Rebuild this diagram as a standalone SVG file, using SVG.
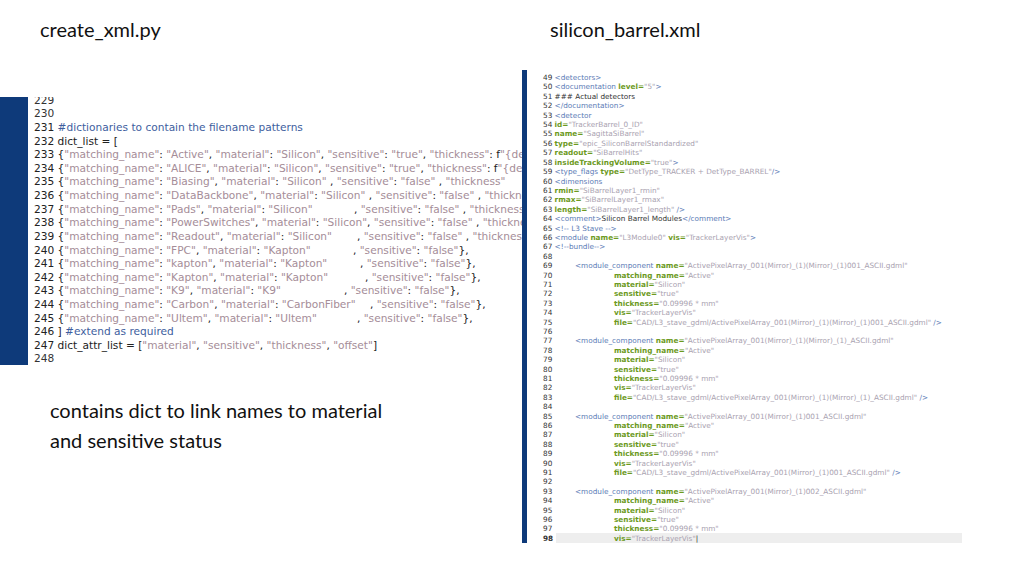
<svg xmlns="http://www.w3.org/2000/svg" width="1024" height="576" viewBox="0 0 1024 576">
<defs>
<style>
.t{font-family:Lato,"Open Sans",sans-serif;font-size:20px;fill:#111}
.l{font-family:"DejaVu Sans",sans-serif;font-size:10.6px;fill:#222}
.n{font-family:"DejaVu Sans",sans-serif;font-size:10.6px;fill:#333}
.s{fill:#a58d98}
.c{fill:#3e5e9e}
.r{font-family:"DejaVu Sans",sans-serif;font-size:7.3px;fill:#333}
.g{fill:#6d9a1e;font-weight:bold}
.b{fill:#5c7cb6}
.v{fill:#a9a2b0}
</style>
<clipPath id="lc"><rect x="28" y="97" width="497" height="268"/></clipPath>
</defs>
<rect width="1024" height="576" fill="#fff"/>
<text class="t" x="40" y="37">create_xml.py</text>
<text class="t" x="550" y="37">silicon_barrel.xml</text>
<text class="t" x="50" y="418">contains dict to link names to material</text>
<text class="t" x="50" y="448">and sensitive status</text>
<g id="left">
<rect x="0" y="97" width="28" height="268" fill="#0e3a7a"/>
<g clip-path="url(#lc)" xml:space="preserve">
<text class="n" x="34" y="104">229</text>
<text class="n" x="34" y="117">230</text>
<text class="l" x="34" y="131">231 <tspan class="c">#dictionaries to contain the filename patterns</tspan></text>
<text class="l" x="34" y="145">232 dict_list = [</text>
<text class="l" x="34" y="158">233   {<tspan class="s">"matching_name"</tspan>: <tspan class="s">"Active"</tspan>, <tspan class="s">"material"</tspan>: <tspan class="s">"Silicon"</tspan>, <tspan class="s">"sensitive"</tspan>: <tspan class="s">"true"</tspan>, <tspan class="s">"thickness"</tspan>: f<tspan class="s">"{de</tspan></text>
<text class="l" x="34" y="172">234   {<tspan class="s">"matching_name"</tspan>: <tspan class="s">"ALICE"</tspan>, <tspan class="s">"material"</tspan>: <tspan class="s">"Silicon"</tspan>, <tspan class="s">"sensitive"</tspan>: <tspan class="s">"true"</tspan>, <tspan class="s">"thickness"</tspan>: f<tspan class="s">"{de</tspan></text>
<text class="l" x="34" y="185">235   {<tspan class="s">"matching_name"</tspan>: <tspan class="s">"Biasing"</tspan>, <tspan class="s">"material"</tspan>: <tspan class="s">"Silicon"</tspan><tspan x="330">, <tspan class="s">"sensitive"</tspan>: <tspan class="s">"false"</tspan> , <tspan class="s">"thickness"</tspan></tspan></text>
<text class="l" x="34" y="199">236   {<tspan class="s">"matching_name"</tspan>: <tspan class="s">"DataBackbone"</tspan>, <tspan class="s">"material"</tspan>: <tspan class="s">"Silicon"</tspan> , <tspan class="s">"sensitive"</tspan>: <tspan class="s">"false"</tspan> , <tspan class="s">"thickness"</tspan></text>
<text class="l" x="34" y="213">237   {<tspan class="s">"matching_name"</tspan>: <tspan class="s">"Pads"</tspan>, <tspan class="s">"material"</tspan>: <tspan class="s">"Silicon"</tspan><tspan x="354">, <tspan class="s">"sensitive"</tspan>: <tspan class="s">"false"</tspan> , <tspan class="s">"thickness"</tspan></tspan></text>
<text class="l" x="34" y="226">238   {<tspan class="s">"matching_name"</tspan>: <tspan class="s">"PowerSwitches"</tspan>, <tspan class="s">"material"</tspan>: <tspan class="s">"Silicon"</tspan>, <tspan class="s">"sensitive"</tspan>: <tspan class="s">"false"</tspan> , <tspan class="s">"thickness"</tspan></text>
<text class="l" x="34" y="240">239   {<tspan class="s">"matching_name"</tspan>: <tspan class="s">"Readout"</tspan>, <tspan class="s">"material"</tspan>: <tspan class="s">"Silicon"</tspan><tspan x="357">, <tspan class="s">"sensitive"</tspan>: <tspan class="s">"false"</tspan> , <tspan class="s">"thickness"</tspan></tspan></text>
<text class="l" x="34" y="254">240   {<tspan class="s">"matching_name"</tspan>: <tspan class="s">"FPC"</tspan>, <tspan class="s">"material"</tspan>: <tspan class="s">"Kapton"</tspan><tspan x="353">, <tspan class="s">"sensitive"</tspan>: <tspan class="s">"false"</tspan>},</tspan></text>
<text class="l" x="34" y="267">241   {<tspan class="s">"matching_name"</tspan>: <tspan class="s">"kapton"</tspan>, <tspan class="s">"material"</tspan>: <tspan class="s">"Kapton"</tspan><tspan x="360">, <tspan class="s">"sensitive"</tspan>: <tspan class="s">"false"</tspan>},</tspan></text>
<text class="l" x="34" y="281">242   {<tspan class="s">"matching_name"</tspan>: <tspan class="s">"Kapton"</tspan>, <tspan class="s">"material"</tspan>: <tspan class="s">"Kapton"</tspan><tspan x="365">, <tspan class="s">"sensitive"</tspan>: <tspan class="s">"false"</tspan>},</tspan></text>
<text class="l" x="34" y="294">243   {<tspan class="s">"matching_name"</tspan>: <tspan class="s">"K9"</tspan>, <tspan class="s">"material"</tspan>: <tspan class="s">"K9"</tspan><tspan x="344">, <tspan class="s">"sensitive"</tspan>: <tspan class="s">"false"</tspan>},</tspan></text>
<text class="l" x="34" y="308">244   {<tspan class="s">"matching_name"</tspan>: <tspan class="s">"Carbon"</tspan>, <tspan class="s">"material"</tspan>: <tspan class="s">"CarbonFiber"</tspan><tspan x="370">, <tspan class="s">"sensitive"</tspan>: <tspan class="s">"false"</tspan>},</tspan></text>
<text class="l" x="34" y="322">245   {<tspan class="s">"matching_name"</tspan>: <tspan class="s">"Ultem"</tspan>, <tspan class="s">"material"</tspan>: <tspan class="s">"Ultem"</tspan><tspan x="357">, <tspan class="s">"sensitive"</tspan>: <tspan class="s">"false"</tspan>},</tspan></text>
<text class="l" x="34" y="335">246 ] <tspan class="c">#extend as required</tspan></text>
<text class="l" x="34" y="349">247 dict_attr_list = [<tspan class="s">"material"</tspan>, <tspan class="s">"sensitive"</tspan>, <tspan class="s">"thickness"</tspan>, <tspan class="s">"offset"</tspan>]</text>
<text class="n" x="34" y="362">248</text>
</g>
</g>
<g id="right" xml:space="preserve">
<rect x="522" y="70" width="5" height="473" fill="#0e3a7a"/>
<rect x="556" y="533" width="406" height="10" fill="#eeeeee"/>
<text class="r" x="543" y="80">49  <tspan class="b">&lt;detectors&gt;</tspan></text>
<text class="r" x="543" y="89">50   <tspan class="b">&lt;documentation</tspan> <tspan class="g">level=</tspan><tspan class="v">"5"</tspan><tspan class="b">&gt;</tspan></text>
<text class="r" x="543" y="99">51        ### Actual detectors</text>
<text class="r" x="543" y="108">52   <tspan class="b">&lt;/documentation&gt;</tspan></text>
<text class="r" x="543" y="118">53   <tspan class="b">&lt;detector</tspan></text>
<text class="r" x="543" y="127">54     <tspan class="g">id=</tspan><tspan class="v">"TrackerBarrel_0_ID"</tspan></text>
<text class="r" x="543" y="136">55     <tspan class="g">name=</tspan><tspan class="v">"SagittaSiBarrel"</tspan></text>
<text class="r" x="543" y="146">56     <tspan class="g">type=</tspan><tspan class="v">"epic_SiliconBarrelStandardized"</tspan></text>
<text class="r" x="543" y="155">57     <tspan class="g">readout=</tspan><tspan class="v">"SiBarrelHits"</tspan></text>
<text class="r" x="543" y="165">58     <tspan class="g">insideTrackingVolume=</tspan><tspan class="v">"true"</tspan><tspan class="b">&gt;</tspan></text>
<text class="r" x="543" y="174">59     <tspan class="b">&lt;type_flags</tspan> <tspan class="g">type=</tspan><tspan class="v">"DetType_TRACKER + DetType_BARREL"</tspan><tspan class="b">/&gt;</tspan></text>
<text class="r" x="543" y="184">60     <tspan class="b">&lt;dimensions</tspan></text>
<text class="r" x="543" y="193">61       <tspan class="g">rmin=</tspan><tspan class="v">"SiBarrelLayer1_rmin"</tspan></text>
<text class="r" x="543" y="202">62       <tspan class="g">rmax=</tspan><tspan class="v">"SiBarrelLayer1_rmax"</tspan></text>
<text class="r" x="543" y="212">63       <tspan class="g">length=</tspan><tspan class="v">"SiBarrelLayer1_length"</tspan> <tspan class="b">/&gt;</tspan></text>
<text class="r" x="543" y="221">64     <tspan class="b">&lt;comment&gt;</tspan>Silicon Barrel Modules<tspan class="b">&lt;/comment&gt;</tspan></text>
<text class="r" x="543" y="231">65     <tspan class="b">&lt;!-- L3 Stave --&gt;</tspan></text>
<text class="r" x="543" y="240">66     <tspan class="b">&lt;module</tspan> <tspan class="g">name=</tspan><tspan class="v">"L3Module0"</tspan> <tspan class="g">vis=</tspan><tspan class="v">"TrackerLayerVis"</tspan><tspan class="b">&gt;</tspan></text>
<text class="r" x="543" y="249">67       <tspan class="b">&lt;!--bundle--&gt;</tspan></text>
<text class="r" x="543" y="259">68</text>
<text class="r" x="543" y="268">69<tspan x="575" class="b">&lt;module_component</tspan> <tspan class="g">name=</tspan><tspan class="v">"ActivePixelArray_001(Mirror)_(1)(Mirror)_(1)001_ASCII.gdml"</tspan></text>
<text class="r" x="543" y="278">70<tspan x="614" class="g">matching_name=</tspan><tspan class="v">"Active"</tspan></text>
<text class="r" x="543" y="287">71<tspan x="614" class="g">material=</tspan><tspan class="v">"Silicon"</tspan></text>
<text class="r" x="543" y="296">72<tspan x="614" class="g">sensitive=</tspan><tspan class="v">"true"</tspan></text>
<text class="r" x="543" y="306">73<tspan x="614" class="g">thickness=</tspan><tspan class="v">"0.09996 * mm"</tspan></text>
<text class="r" x="543" y="315">74<tspan x="614" class="g">vis=</tspan><tspan class="v">"TrackerLayerVis"</tspan></text>
<text class="r" x="543" y="325">75<tspan x="614" class="g">file=</tspan><tspan class="v">"CAD/L3_stave_gdml/ActivePixelArray_001(Mirror)_(1)(Mirror)_(1)001_ASCII.gdml"</tspan> <tspan class="b">/&gt;</tspan></text>
<text class="r" x="543" y="334">76</text>
<text class="r" x="543" y="343">77<tspan x="575" class="b">&lt;module_component</tspan> <tspan class="g">name=</tspan><tspan class="v">"ActivePixelArray_001(Mirror)_(1)(Mirror)_(1)_ASCII.gdml"</tspan></text>
<text class="r" x="543" y="353">78<tspan x="614" class="g">matching_name=</tspan><tspan class="v">"Active"</tspan></text>
<text class="r" x="543" y="362">79<tspan x="614" class="g">material=</tspan><tspan class="v">"Silicon"</tspan></text>
<text class="r" x="543" y="372">80<tspan x="614" class="g">sensitive=</tspan><tspan class="v">"true"</tspan></text>
<text class="r" x="543" y="381">81<tspan x="614" class="g">thickness=</tspan><tspan class="v">"0.09996 * mm"</tspan></text>
<text class="r" x="543" y="390">82<tspan x="614" class="g">vis=</tspan><tspan class="v">"TrackerLayerVis"</tspan></text>
<text class="r" x="543" y="400">83<tspan x="614" class="g">file=</tspan><tspan class="v">"CAD/L3_stave_gdml/ActivePixelArray_001(Mirror)_(1)(Mirror)_(1)_ASCII.gdml"</tspan> <tspan class="b">/&gt;</tspan></text>
<text class="r" x="543" y="409">84</text>
<text class="r" x="543" y="419">85<tspan x="575" class="b">&lt;module_component</tspan> <tspan class="g">name=</tspan><tspan class="v">"ActivePixelArray_001(Mirror)_(1)001_ASCII.gdml"</tspan></text>
<text class="r" x="543" y="428">86<tspan x="614" class="g">matching_name=</tspan><tspan class="v">"Active"</tspan></text>
<text class="r" x="543" y="437">87<tspan x="614" class="g">material=</tspan><tspan class="v">"Silicon"</tspan></text>
<text class="r" x="543" y="447">88<tspan x="614" class="g">sensitive=</tspan><tspan class="v">"true"</tspan></text>
<text class="r" x="543" y="456">89<tspan x="614" class="g">thickness=</tspan><tspan class="v">"0.09996 * mm"</tspan></text>
<text class="r" x="543" y="466">90<tspan x="614" class="g">vis=</tspan><tspan class="v">"TrackerLayerVis"</tspan></text>
<text class="r" x="543" y="475">91<tspan x="614" class="g">file=</tspan><tspan class="v">"CAD/L3_stave_gdml/ActivePixelArray_001(Mirror)_(1)001_ASCII.gdml"</tspan> <tspan class="b">/&gt;</tspan></text>
<text class="r" x="543" y="484">92</text>
<text class="r" x="543" y="494">93<tspan x="575" class="b">&lt;module_component</tspan> <tspan class="g">name=</tspan><tspan class="v">"ActivePixelArray_001(Mirror)_(1)002_ASCII.gdml"</tspan></text>
<text class="r" x="543" y="503">94<tspan x="614" class="g">matching_name=</tspan><tspan class="v">"Active"</tspan></text>
<text class="r" x="543" y="513">95<tspan x="614" class="g">material=</tspan><tspan class="v">"Silicon"</tspan></text>
<text class="r" x="543" y="522">96<tspan x="614" class="g">sensitive=</tspan><tspan class="v">"true"</tspan></text>
<text class="r" x="543" y="531">97<tspan x="614" class="g">thickness=</tspan><tspan class="v">"0.09996 * mm"</tspan></text>
<text class="r" x="543" y="541" font-weight="bold">98<tspan x="614" class="g">vis=</tspan><tspan class="v" font-weight="normal">"TrackerLayerVis"</tspan><tspan font-weight="normal">|</tspan></text>
</g>
</svg>
